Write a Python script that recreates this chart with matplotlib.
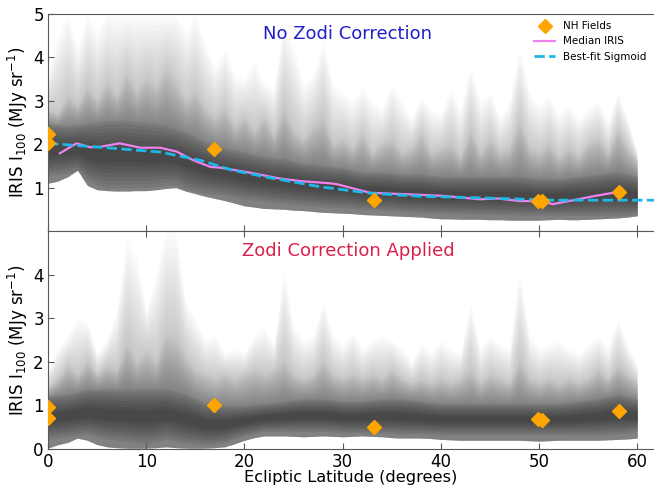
import numpy as np
import matplotlib
matplotlib.use('Agg')
from matplotlib import pyplot as plt

# --- NH fields (IRIS 100 micron at each field) ---
nh_lat = [0.0, 0.0, 16.9, 33.2, 49.9, 50.3, 58.1]
nh_raw = [2.23, 2.02, 1.89, 0.71, 0.70, 0.69, 0.90]
nh_corr = [0.97, 0.71, 1.01, 0.51, 0.69, 0.67, 0.87]

# --- median IRIS profile (no zodi correction) ---
med_lat = [1.2, 2.9, 4.3, 5.3, 7.3, 9.4, 11.4, 13.1, 14.8, 16.5, 17.5, 20.2, 23.6,
           25.7, 28.7, 29.4, 31.1, 32.8, 36.2, 40.2, 44.0, 45.7, 48.1, 50.1, 51.4,
           53.5, 55.5, 57.5, 58.0]
med_iris = [1.79, 2.02, 1.93, 1.94, 2.02, 1.92, 1.92, 1.83, 1.63, 1.48, 1.46, 1.36, 1.21,
            1.15, 1.10, 1.08, 0.98, 0.88, 0.85, 0.81, 0.73, 0.75, 0.69, 0.69, 0.62,
            0.71, 0.80, 0.88, 0.90]

# --- best-fit sigmoid ---
sig_lat = [0.0, 5.3, 11.4, 15.5, 18.8, 22.3, 27.7, 32.8, 37.9, 44.7, 51.4, 62.0]
sig_iris = [2.02, 1.93, 1.82, 1.63, 1.40, 1.24, 1.02, 0.87, 0.80, 0.76, 0.71, 0.71]

# --- pixel cloud envelopes, 1 deg steps in latitude ---
lat_grid = np.arange(0, 61, 1)

raw_lo = [1.10, 1.15, 1.25, 1.40, 1.05, 0.95, 0.93, 0.92, 0.92, 0.93, 0.93, 0.95, 0.98, 1.00,
          0.92, 0.86, 0.80, 0.75, 0.70, 0.64, 0.58, 0.55, 0.52, 0.51, 0.50, 0.48, 0.47, 0.45,
          0.43, 0.42, 0.41, 0.40, 0.38, 0.37, 0.36, 0.35, 0.34, 0.33, 0.32, 0.30, 0.28, 0.28,
          0.27, 0.27, 0.27, 0.26, 0.26, 0.25, 0.25, 0.25, 0.25, 0.26, 0.27, 0.26, 0.26, 0.27,
          0.28, 0.29, 0.30, 0.32, 0.35]
raw_core_lo = [1.35, 1.38, 1.40, 1.45, 1.25, 1.15, 1.10, 1.10, 1.10, 1.10, 1.10, 1.12, 1.15,
               1.15, 1.05, 1.00, 0.95, 0.92, 0.90, 0.85, 0.80, 0.78, 0.75, 0.72, 0.70, 0.68,
               0.66, 0.64, 0.62, 0.61, 0.60, 0.58, 0.56, 0.55, 0.53, 0.52, 0.50, 0.49, 0.48,
               0.47, 0.46, 0.46, 0.45, 0.45, 0.44, 0.44, 0.43, 0.43, 0.42, 0.42, 0.42, 0.42,
               0.42, 0.42, 0.42, 0.42, 0.42, 0.42, 0.42, 0.43, 0.45]
raw_core_hi = [2.40, 2.38, 2.35, 2.38, 2.40, 2.42, 2.45, 2.45, 2.45, 2.42, 2.40, 2.38, 2.35,
               2.28, 2.20, 2.10, 2.00, 1.92, 1.85, 1.80, 1.75, 1.70, 1.65, 1.62, 1.60, 1.55,
               1.50, 1.48, 1.45, 1.42, 1.40, 1.35, 1.30, 1.30, 1.30, 1.28, 1.25, 1.25, 1.25,
               1.22, 1.20, 1.20, 1.20, 1.20, 1.20, 1.20, 1.20, 1.20, 1.20, 1.18, 1.15, 1.15,
               1.15, 1.18, 1.20, 1.22, 1.25, 1.28, 1.30, 1.25, 1.20]
raw_haze_hi = [2.8, 2.7, 3.1, 2.9, 3.3, 3.0, 3.4, 3.1, 3.6, 3.2, 3.5, 3.3, 3.7, 3.4, 3.0, 3.2,
               2.8, 2.6, 2.8, 2.4, 2.6, 2.3, 2.6, 2.2, 2.8, 2.3, 2.1, 2.4, 2.6, 2.0, 2.1, 1.9,
               2.2, 1.8, 2.0, 2.1, 1.8, 1.9, 2.2, 1.8, 1.9, 2.0, 1.7, 2.3, 1.8, 2.1, 1.8, 1.9,
               2.5, 1.9, 1.8, 2.0, 1.7, 1.9, 1.7, 2.0, 2.1, 1.8, 2.3, 1.9, 1.6]
raw_faint_hi = [3.6, 4.5, 5.0, 4.2, 5.0, 4.6, 5.0, 5.0, 5.0, 5.0, 5.0, 5.0, 5.0, 5.0, 4.6, 5.0,
                4.3, 3.8, 4.2, 3.6, 3.5, 3.9, 3.4, 3.3, 4.8, 4.2, 3.4, 3.6, 4.4, 3.4, 3.2, 3.0,
                3.3, 3.0, 2.8, 3.4, 3.0, 2.6, 3.1, 2.8, 2.7, 3.3, 2.8, 3.8, 3.0, 3.2, 2.6, 3.0,
                4.2, 3.2, 2.9, 3.1, 2.7, 2.9, 2.6, 2.8, 3.0, 2.5, 3.2, 2.6, 1.8]

corr_lo = [0.02, 0.10, 0.15, 0.25, 0.20, 0.10, 0.05, 0.03, 0.02, 0.02, 0.02, 0.03, 0.05, 0.03,
           0.02, 0.02, 0.02, 0.03, 0.05, 0.12, 0.20, 0.26, 0.30, 0.30, 0.30, 0.29, 0.28, 0.29,
           0.30, 0.29, 0.28, 0.29, 0.30, 0.29, 0.28, 0.26, 0.25, 0.25, 0.25, 0.24, 0.22, 0.21,
           0.20, 0.20, 0.20, 0.20, 0.20, 0.20, 0.20, 0.19, 0.18, 0.19, 0.20, 0.20, 0.20, 0.20,
           0.20, 0.21, 0.22, 0.23, 0.25]
corr_core_lo = [0.30, 0.32, 0.35, 0.38, 0.40, 0.35, 0.30, 0.28, 0.25, 0.22, 0.20, 0.25, 0.30,
                0.25, 0.20, 0.18, 0.15, 0.17, 0.20, 0.28, 0.35, 0.40, 0.45, 0.45, 0.45, 0.45,
                0.45, 0.45, 0.45, 0.44, 0.42, 0.42, 0.42, 0.42, 0.42, 0.41, 0.40, 0.40, 0.40,
                0.39, 0.38, 0.38, 0.38, 0.38, 0.38, 0.38, 0.38, 0.38, 0.38, 0.38, 0.38, 0.38,
                0.38, 0.38, 0.38, 0.38, 0.38, 0.39, 0.40, 0.42, 0.45]
corr_core_hi = [1.15, 1.18, 1.20, 1.25, 1.30, 1.30, 1.30, 1.30, 1.30, 1.30, 1.30, 1.30, 1.30,
                1.25, 1.20, 1.10, 1.00, 0.98, 0.95, 0.95, 0.95, 0.98, 1.00, 1.02, 1.05, 1.08,
                1.10, 1.10, 1.10, 1.08, 1.05, 1.05, 1.05, 1.08, 1.10, 1.10, 1.10, 1.08, 1.05,
                1.02, 1.00, 1.00, 1.00, 1.00, 1.00, 1.00, 1.00, 1.00, 1.00, 1.00, 1.00, 1.00,
                1.00, 1.02, 1.05, 1.08, 1.10, 1.15, 1.20, 1.15, 1.10]
corr_haze_hi = [1.4, 1.6, 1.9, 1.7, 2.0, 1.7, 1.9, 1.8, 2.4, 2.0, 2.2, 2.0, 2.6, 2.5, 2.1, 1.8,
                1.7, 1.6, 1.7, 1.6, 1.7, 1.8, 1.7, 1.8, 2.0, 1.7, 1.6, 1.7, 2.0, 1.7, 1.6, 1.7,
                1.6, 1.7, 1.6, 1.8, 1.6, 1.5, 1.6, 1.5, 1.6, 1.5, 1.6, 1.8, 1.5, 1.7, 1.6, 1.5,
                2.0, 1.6, 1.5, 1.6, 1.5, 1.6, 1.5, 1.6, 1.8, 1.6, 1.9, 1.7, 1.5]
corr_faint_hi = [1.8, 2.3, 2.6, 3.0, 2.9, 2.2, 2.5, 3.2, 4.8, 4.4, 3.2, 4.0, 5.0, 5.0, 3.4, 3.0,
                 2.5, 2.6, 2.2, 2.3, 2.2, 2.6, 2.8, 2.4, 4.1, 2.8, 2.5, 2.6, 3.4, 2.6, 2.4, 2.7,
                 2.3, 2.5, 2.6, 2.5, 2.3, 2.0, 2.4, 2.2, 2.5, 2.3, 2.2, 3.4, 2.3, 2.6, 2.4, 2.3,
                 4.1, 2.6, 2.3, 2.4, 2.5, 2.3, 2.2, 2.4, 2.6, 2.3, 3.0, 2.4, 1.9]


def draw_cloud(ax, lo, core_lo, core_hi, haze_hi, faint_hi):
    """Stack many faint gray bands so the pixel cloud fades out smoothly from its core."""
    lo, core_lo, core_hi = np.asarray(lo), np.asarray(core_lo), np.asarray(core_hi)
    haze_hi, faint_hi = np.asarray(haze_hi), np.asarray(faint_hi)
    kw = dict(color='k', lw=0, zorder=1)
    # sparse scatter reaching up to the spikes
    for t in np.linspace(0.05, 1.0, 14):
        ax.fill_between(lat_grid, lo, haze_hi + t * (faint_hi - haze_hi), alpha=0.014, **kw)
    # medium density haze
    for t in np.linspace(0.05, 1.0, 14):
        ax.fill_between(lat_grid, lo, core_hi + t * (haze_hi - core_hi), alpha=0.027, **kw)
    # dense core, darkest near its middle
    mid = 0.5 * (core_lo + core_hi)
    for t in np.linspace(-0.15, 0.75, 8):
        ax.fill_between(lat_grid, core_lo + t * (mid - core_lo), core_hi - t * (core_hi - mid),
                        alpha=0.065, **kw)


fig = plt.figure(figsize=(6.54, 4.91), dpi=100)
ax1 = fig.add_axes([0.0734, 0.5295, 0.9266, 0.442])
ax2 = fig.add_axes([0.0734, 0.0855, 0.9266, 0.444])

draw_cloud(ax1, raw_lo, raw_core_lo, raw_core_hi, raw_haze_hi, raw_faint_hi)
draw_cloud(ax2, corr_lo, corr_core_lo, corr_core_hi, corr_haze_hi, corr_faint_hi)

ax1.plot(nh_lat, nh_raw, 'D', color='orange', ms=7, ls='none', label='NH Fields', zorder=5)
ax1.plot(med_lat, med_iris, '-', color='violet', lw=1.6, label='Median IRIS', zorder=4)
ax1.plot(sig_lat, sig_iris, '--', color='#1cb8e8', lw=2, label='Best-fit Sigmoid', zorder=4)
ax2.plot(nh_lat, nh_corr, 'D', color='orange', ms=7, ls='none', zorder=5)

ax1.legend(loc='upper right', frameon=False, fontsize=7.5, numpoints=1,
           handlelength=2.0, borderaxespad=0.3, labelspacing=0.5)

ax1.text(0.495, 0.91, 'No Zodi Correction', transform=ax1.transAxes, ha='center',
         va='center', fontsize=13, color='#1f1fcc')
ax2.text(0.495, 0.91, 'Zodi Correction Applied', transform=ax2.transAxes, ha='center',
         va='center', fontsize=13, color='#dc1f4a')

for ax in (ax1, ax2):
    ax.set_xlim(0, 61.7)
    ax.set_ylim(0, 5)
    ax.set_xticks([0, 10, 20, 30, 40, 50, 60])
    ax.spines['right'].set_visible(False)
    for s in ('left', 'top', 'bottom'):
        ax.spines[s].set_color('0.35')
    ax.tick_params(direction='in', labelsize=12, color='0.35', length=4, pad=3)
    ax.set_ylabel(r'IRIS I$_{100}$ (MJy sr$^{-1}$)', fontsize=12, labelpad=2)

ax1.set_yticks([1, 2, 3, 4, 5])
ax1.tick_params(labelbottom=False)
ax2.set_yticks([0, 1, 2, 3, 4])
ax2.tick_params(top=True)
ax2.set_xlabel('Ecliptic Latitude (degrees)', fontsize=11.7, labelpad=-1)

fig.savefig('out.png', dpi=100)
